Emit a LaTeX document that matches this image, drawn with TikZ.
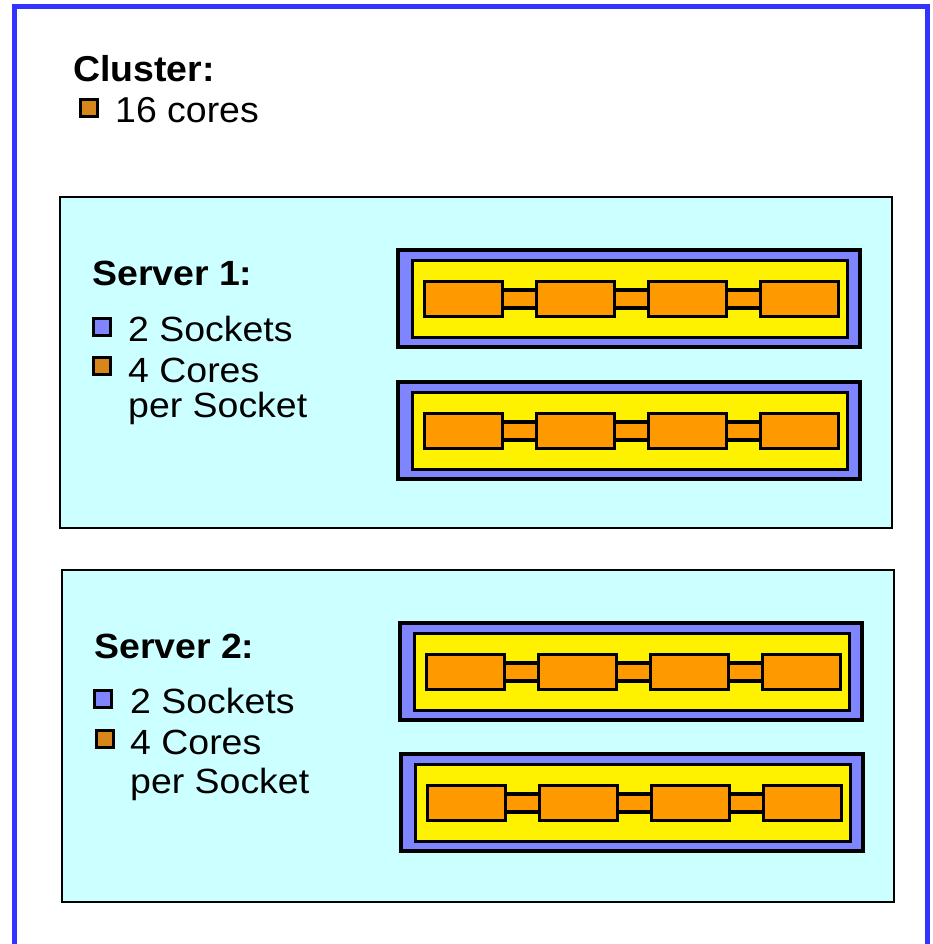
\documentclass[tikz,border=0pt]{standalone}
\usepackage{fontspec}
\setmainfont{Liberation Sans}
\definecolor{frameblue}{HTML}{3333FF}
\definecolor{srvcyan}{HTML}{CCFFFF}
\definecolor{sockblue}{HTML}{7F84FF}
\definecolor{coreorange}{HTML}{FF9900}
\definecolor{legorange}{HTML}{D6861A}
\tikzset{
  srvbox/.style={draw=black, line width=2.8pt, fill=srvcyan},
  sockbox/.style={draw=black, line width=3.2pt, fill=sockblue, anchor=north west, inner sep=0pt, outer sep=0pt, minimum width=462pt, minimum height=97pt},
  yelbox/.style={draw=black, line width=3.2pt, fill=yellow, anchor=north west, inner sep=0pt, outer sep=0pt, minimum width=435pt, minimum height=77pt},
  corebox/.style={draw=black, line width=3.2pt, fill=coreorange, anchor=north west, inner sep=0pt, outer sep=0pt, minimum width=78pt, minimum height=35pt},
  linkbox/.style={draw=black, line width=3.2pt, fill=coreorange},
  legsq/.style={draw=black, line width=2.8pt, inner sep=0pt, outer sep=0pt, minimum size=17.5pt},
  cltxt/.style={anchor=base west, inner sep=0pt, font=\fontsize{36}{43}\selectfont, xscale=1.04},
  svtxt/.style={anchor=base west, inner sep=0pt, font=\fontsize{35}{42}\selectfont, xscale=1.07}
}
\newcommand{\mysocket}[3]{%
  \node[sockbox] (#1) at (#2,#3) {};
  \node[yelbox] (#1y) at (#2+14.5,#3+10.5) {};
  \foreach \k in {1,...,4}
    \node[corebox] (#1c\k) at ({#2+26.5+112*(\k-1)},#3+31.5) {};
  \foreach \a/\b in {1/2,2/3,3/4}
    \path[linkbox] ([yshift=9pt]#1c\a.east) rectangle ([yshift=-9pt]#1c\b.west);
}
\begin{document}
\begin{tikzpicture}[x=1pt,y=-1pt]
\useasboundingbox (0,0) rectangle (932,944);
\clip (0,0) rectangle (932,944);
\fill[white] (0,0) rectangle (932,944);
% outer cluster frame
\draw[frameblue, line width=5pt] (14.5,980) -- (14.5,7) -- (927,7) -- (927,980);
% cluster legend
\node[cltxt] (cltitle) at (73,82) {\bfseries Cluster:};
\node[legsq, fill=legorange] (clsq) at (89,108) {};
\node[cltxt] (clcores) at (115,123) {16 cores};
% server 1
\draw[srvbox] (60,197) rectangle (892,528);
\node[svtxt] (s1title) at (92,285) {\bfseries Server 1:};
\node[legsq, fill=sockblue] (s1sq1) at (102,327) {};
\node[svtxt] (s1l1) at (128,341) {2 Sockets};
\node[legsq, fill=legorange] (s1sq2) at (102,366) {};
\node[svtxt] (s1l2) at (128,382) {4 Cores};
\node[svtxt] (s1l3) at (128,417) {per Socket};
\mysocket{sa}{398}{250}
\mysocket{sb}{398}{382}
% server 2
\draw[srvbox] (62,570) rectangle (894,902);
\node[svtxt] (s2title) at (94,658) {\bfseries Server 2:};
\node[legsq, fill=sockblue] (s2sq1) at (103,699) {};
\node[svtxt] (s2l1) at (130,713) {2 Sockets};
\node[legsq, fill=legorange] (s2sq2) at (105,739) {};
\node[svtxt] (s2l2) at (130,754) {4 Cores};
\node[svtxt] (s2l3) at (130,793) {per Socket};
\mysocket{sc}{400}{623}
\mysocket{sd}{401}{754}
\end{tikzpicture}
\end{document}
